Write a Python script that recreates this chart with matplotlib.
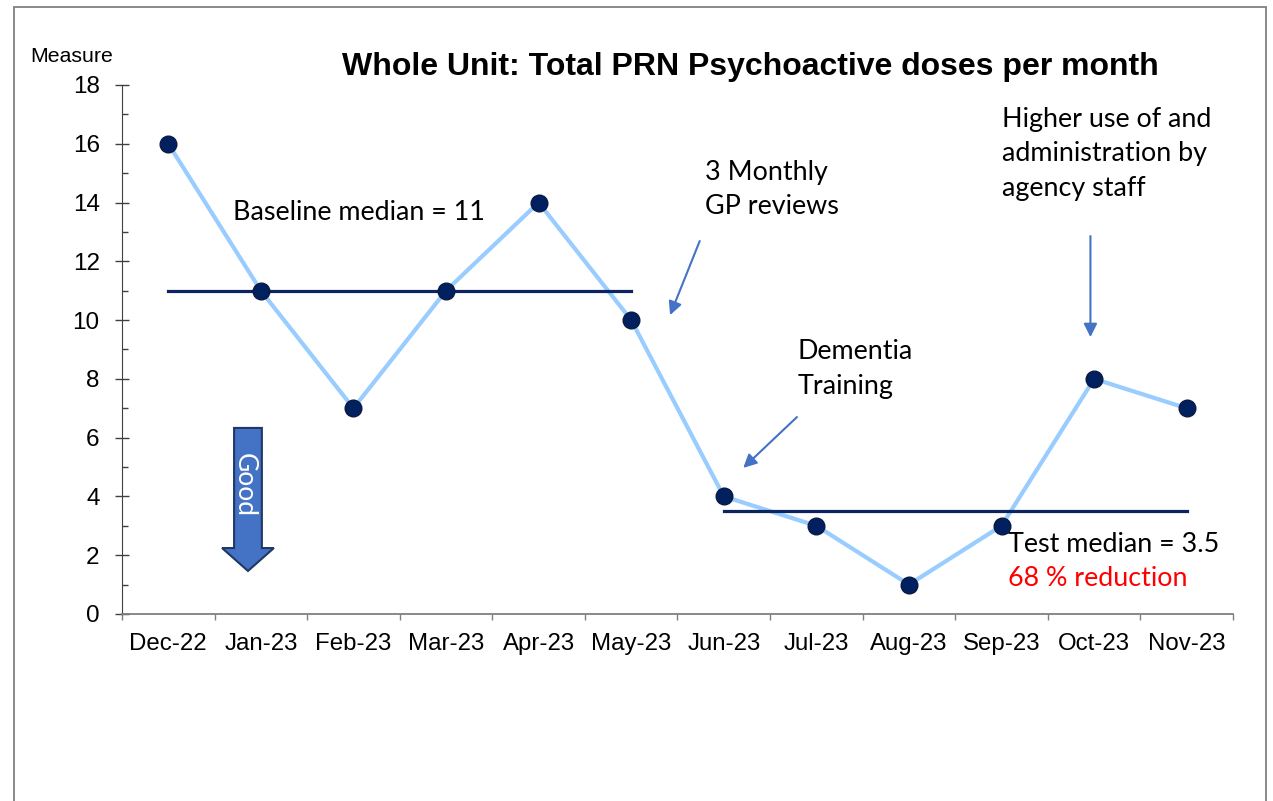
import matplotlib.pyplot as plt
import matplotlib.patches as mpatches
from matplotlib.patches import FancyArrow
import numpy as np

months = ['Dec-22', 'Jan-23', 'Feb-23', 'Mar-23', 'Apr-23', 'May-23',
          'Jun-23', 'Jul-23', 'Aug-23', 'Sep-23', 'Oct-23', 'Nov-23']
doses = [16, 11, 7, 11, 14, 10, 4, 3, 1, 3, 8, 7]
baseline_idx = [0, 5]
baseline_median = 11
test_idx = [6, 11]
test_median = 3.5

plt.rcParams['font.family'] = ['Liberation Sans', 'DejaVu Sans']
note_font = ['Lato', 'DejaVu Sans']

fig = plt.figure(figsize=(12.73, 8.01), dpi=100)
ax = fig.add_axes([0.0958, 0.2335, 0.8728, 0.6604])

# outer frame
fig.patches.append(mpatches.Rectangle((14/1273, -0.05), 1252/1273, 1.05 - 7/801,
                                      transform=fig.transFigure, fill=False,
                                      edgecolor='#808080', lw=1.3))

x = np.arange(len(months))
ax.plot(x, doses, color='#99CCFF', lw=3, zorder=2)
ax.plot(x, doses, 'o', ms=12, mfc='#002060', mec='#0a1a40', mew=1, zorder=4)
ax.plot(baseline_idx, [baseline_median]*2, color='#0b2560', lw=2.3, zorder=3)
ax.plot(test_idx, [test_median]*2, color='#0b2560', lw=2.3, zorder=3)

ax.set_xlim(-0.5, len(months) - 0.5)
ax.set_ylim(0, 18)
ax.set_yticks(range(0, 19, 2))
ax.set_yticks(range(1, 18, 2), minor=True)
ax.set_xticks(np.arange(-0.5, len(months), 1))
ax.set_xticklabels([])
ax.set_xticks(x, minor=True)
ax.set_xticklabels(months, minor=True)
ax.tick_params(axis='x', which='major', direction='out', length=4.5, width=1, color='#7f7f7f')
ax.tick_params(axis='x', which='minor', length=0, labelsize=17.3, pad=13.5)
ax.tick_params(axis='y', which='major', direction='inout', length=10, width=1,
               color='#404040', labelsize=17.5, pad=11)
ax.tick_params(axis='y', which='minor', direction='in', length=4.5, width=1, color='#404040')
for s in ['top', 'right']:
    ax.spines[s].set_visible(False)
ax.spines['left'].set_color('#404040')
ax.spines['bottom'].set_color('#7f7f7f')
ax.spines['bottom'].set_linewidth(1.3)

fig.text(30/1273, 1 - 56/801, 'Measure', fontsize=15.3, va='center', ha='left')
fig.text(750/1273, 1 - 67/801, 'Whole Unit: Total PRN Psychoactive doses per month',
         fontsize=23, fontweight='bold', ha='center', va='center')

# good arrow
ax.add_patch(FancyArrow(0.861, 6.33, 0, 1.463 - 6.33, width=0.30, head_width=0.56,
                        head_length=0.78, length_includes_head=True,
                        facecolor='#4472C4', edgecolor='#1F3864', lw=1.5, zorder=5))
ax.text(0.82, 4.4, 'Good', rotation=-90, color='white', fontsize=19,
        family=note_font, ha='center', va='center', zorder=6)

ax.text(0.70, 13.65, 'Baseline median = 11', fontsize=19.4, family=note_font, va='center')
ax.text(5.80, 14.45, '3 Monthly\nGP reviews', fontsize=19.4, family=note_font,
        va='center', linespacing=1.48)
ax.text(6.80, 8.33, 'Dementia\nTraining', fontsize=19.4, family=note_font,
        va='center', linespacing=1.48)
ax.text(9.0, 15.66, 'Higher use of and\nadministration by\nagency staff', fontsize=19.4,
        family=note_font, va='center', linespacing=1.48)
ax.text(9.07, 2.35, 'Test median = 3.5', fontsize=19.4, family=note_font, va='center')
ax.text(9.07, 1.19, '68 % reduction', fontsize=19.4, family=note_font, va='center', color='red')

arr = dict(arrowstyle='-|>', color='#4472C4', lw=1.5, mutation_scale=20, shrinkA=0, shrinkB=0)
ax.annotate('', xy=(5.42, 10.17), xytext=(5.74, 12.69), arrowprops=arr)
ax.annotate('', xy=(6.21, 4.97), xytext=(6.79, 6.70), arrowprops=arr)
ax.annotate('', xy=(9.96, 9.42), xytext=(9.96, 12.86), arrowprops=arr)

fig.savefig('out.png', dpi=100)
